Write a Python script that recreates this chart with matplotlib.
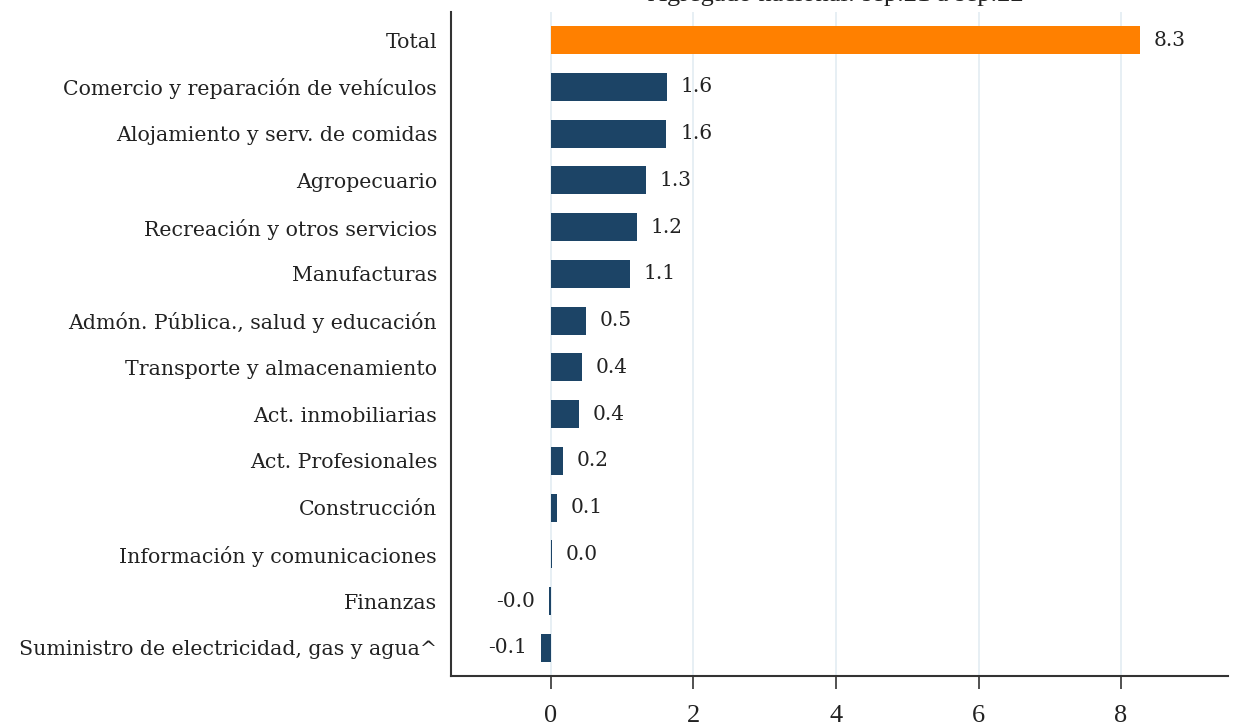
import matplotlib.pyplot as plt

sectores = [
    "Total",
    "Comercio y reparación de vehículos",
    "Alojamiento y serv. de comidas",
    "Agropecuario",
    "Recreación y otros servicios",
    "Manufacturas",
    "Admón. Pública., salud y educación",
    "Transporte y almacenamiento",
    "Act. inmobiliarias",
    "Act. Profesionales",
    "Construcción",
    "Información y comunicaciones",
    "Finanzas",
    "Suministro de electricidad, gas y agua^",
]
contribucion = [8.26, 1.63, 1.62, 1.33, 1.21, 1.11, 0.49, 0.44, 0.39,
                0.17, 0.08, 0.02, -0.02, -0.14]

azul = "#1c4466"
naranja = "#ff8000"
texto = "#222222"
serif_ancha = ["DejaVu Serif"]
serif_estrecha = ["Liberation Serif", "DejaVu Serif"]

plt.rcParams["font.family"] = serif_estrecha

fig = plt.figure(figsize=(12.52, 7.25), dpi=100)
ax = fig.add_axes([451 / 1252, 1 - 676 / 725, 777 / 1252, 664 / 725])

pos = list(range(len(sectores)))
colores = [naranja] + [azul] * (len(sectores) - 1)
ax.barh(pos, contribucion, height=0.6, color=colores, zorder=3)

for y, v in zip(pos, contribucion):
    etiqueta = f"{v:.1f}"
    if v >= 0:
        ax.annotate(etiqueta, (v, y), xytext=(10, 0), textcoords="offset points",
                    ha="left", va="center", fontsize=14.5, color=texto,
                    family=serif_ancha)
    else:
        ax.annotate(etiqueta, (v, y), xytext=(-10, 0), textcoords="offset points",
                    ha="right", va="center", fontsize=14.5, color=texto,
                    family=serif_ancha)

ax.set_xlim(-1.4, 9.5)
ax.set_ylim(len(sectores) - 0.4, -0.6)
ax.set_yticks(pos)
ax.set_yticklabels(sectores, fontsize=14.8, color=texto, family=serif_ancha)
ax.tick_params(axis="y", length=0, pad=10)
ax.set_xticks([0, 2, 4, 6, 8])
ax.tick_params(axis="x", length=9, width=1.2, color="#333333",
               labelsize=19, labelcolor=texto, pad=12)

ax.grid(axis="x", color="#e3ecf2", linewidth=1.2, zorder=0)
for lado in ["top", "right"]:
    ax.spines[lado].set_visible(False)
for lado in ["left", "bottom"]:
    ax.spines[lado].set_color("#333333")
    ax.spines[lado].set_linewidth(1.5)

# titulo cortado en el borde superior
fig.text(836 / 1252, 1 - 0.5 / 725, "Agregado nacional: sep.21 a sep.22",
         ha="center", va="baseline", fontsize=19, color=texto)

fig.savefig("out.png", dpi=100, facecolor="white")
